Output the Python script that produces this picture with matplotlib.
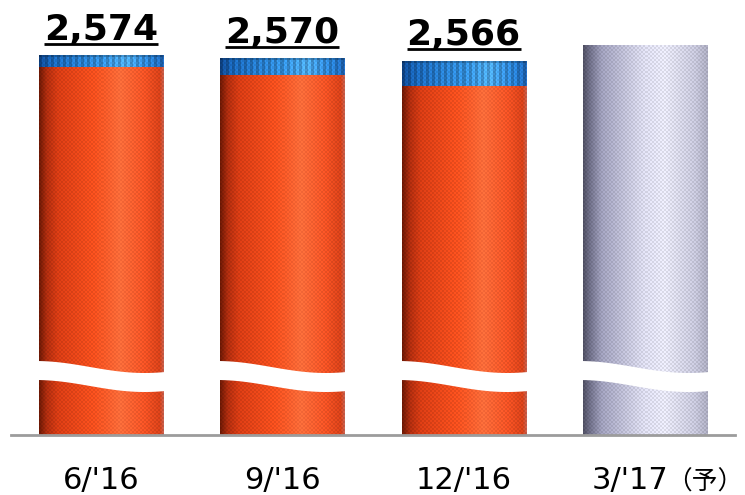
import numpy as np
import matplotlib
matplotlib.use("Agg")
import matplotlib.pyplot as plt
from matplotlib.patches import Polygon
from matplotlib.lines import Line2D
from matplotlib.transforms import IdentityTransform

# ---------------- data ----------------
periods = ["6/'16", "9/'16", "12/'16", "3/'17（予）"]
orange_vals = [2556, 2544, 2526, 0]       # lower (orange) segment
blue_vals = [18, 26, 40, 0]               # upper (blue) segment
forecast_vals = [0, 0, 0, 2592]           # forecast column (lavender)
value_labels = ["2,574", "2,570", "2,566", ""]

# ---------------- style ----------------
Y_MIN, Y_MAX = 1968, 2664
BAR_W = 0.684

orange_stops = ([0.0, 0.06, 0.15, 0.45, 0.65, 0.85, 0.97, 1.0],
                [(110, 25, 5), (175, 45, 15), (215, 60, 20), (245, 80, 30),
                 (255, 108, 58), (242, 82, 36), (215, 65, 25), (200, 95, 75)])
blue_stops = ([0.0, 0.1, 0.5, 0.7, 0.9, 1.0],
              [(15, 70, 140), (25, 100, 180), (50, 140, 215),
               (75, 165, 232), (40, 125, 205), (30, 100, 180)])
lav_stops = ([0.0, 0.05, 0.15, 0.5, 0.65, 0.9, 1.0],
             [(80, 80, 100), (110, 110, 135), (160, 160, 188),
              (220, 220, 238), (230, 230, 244), (198, 198, 218), (172, 172, 192)])


def grad_img(stops, wpx, hpx, stripes=False):
    st, sc = stops
    sc = np.array(sc, dtype=float)
    t = np.linspace(0, 1, wpx)
    cols = np.stack([np.interp(t, st, sc[:, k]) for k in range(3)], axis=-1) / 255.0
    img = np.repeat(cols[None, :, :], hpx, axis=0)
    yy, xx = np.mgrid[0:hpx, 0:wpx]
    checker = ((yy // 2 + xx // 2) % 2) * 2 - 1
    img = img * (1 + 0.05 * checker[..., None])
    if stripes:
        stripe = ((xx // 3) % 2) * 2 - 1
        img = img * (1 + 0.12 * stripe[..., None])
        img[:2] *= 0.8
    return np.clip(img, 0, 1)


fig = plt.figure(figsize=(7.45, 4.95), dpi=100)
ax = fig.add_axes([0, 60 / 495, 1, 435 / 495])
ax.set_xlim(-0.557, 3.552)
ax.set_ylim(Y_MIN, Y_MAX)
ax.axis("off")

px_per_unit = 435 / (Y_MAX - Y_MIN)
bar_px = int(round(BAR_W * 745 / (3.552 + 0.557)))

x = np.arange(len(periods))
for i in range(len(periods)):
    segs = []
    if orange_vals[i]:
        segs.append((Y_MIN, orange_vals[i], orange_stops, False))
    if blue_vals[i]:
        segs.append((orange_vals[i], orange_vals[i] + blue_vals[i], blue_stops, True))
    if forecast_vals[i]:
        segs.append((Y_MIN, forecast_vals[i], lav_stops, False))
    for b, t, stops, stp in segs:
        hpx = max(2, int(round((t - b) * px_per_unit)))
        img = grad_img(stops, bar_px, hpx, stripes=stp)
        ax.imshow(img, extent=(x[i] - BAR_W / 2, x[i] + BAR_W / 2, b, t),
                  aspect="auto", interpolation="nearest", zorder=2)

    # wavy axis break
    tt = np.linspace(0, 1, 60)
    f = (1 - np.cos(np.pi * tt * 1.2)) / 2
    xs = x[i] - BAR_W / 2 - 0.02 + tt * (BAR_W + 0.04)
    amp = 12 / px_per_unit
    upper = Y_MIN + 74 / px_per_unit - amp * f
    lower = Y_MIN + 55 / px_per_unit - amp * f
    pts = np.concatenate([np.column_stack([xs, upper]),
                          np.column_stack([xs[::-1], lower[::-1]])])
    ax.add_patch(Polygon(pts, closed=True, facecolor="white", edgecolor="none", zorder=3))

ax.set_xlim(-0.557, 3.552)
ax.set_ylim(Y_MIN, Y_MAX)

# baseline
ax.axhline(Y_MIN, xmin=11 / 745, xmax=735 / 745, color="#9c9c9c", lw=2.0,
           clip_on=False, zorder=4)

# value labels
texts = []
for i, lbl in enumerate(value_labels):
    if not lbl:
        continue
    top = orange_vals[i] + blue_vals[i]
    tx = ax.annotate(lbl, xy=(x[i], top), xytext=(0, 16 * 0.72),
                     textcoords="offset points", ha="center", va="baseline",
                     fontsize=26, fontweight="bold", color="black",
                     family="DejaVu Sans", zorder=5)
    texts.append((tx, x[i], top))

# category labels
fams = ["DejaVu Sans", "Noto Sans CJK JP"]
suffix_parts = []
for i, lbl in enumerate(periods):
    if "（" in lbl:
        main, rest = lbl.split("（", 1)
        rest = "（" + rest
        tm = ax.annotate(main, xy=(x[i], Y_MIN), xytext=(-53 * 0.72, -54 * 0.72),
                         textcoords="offset points", ha="left", va="baseline",
                         fontsize=22, color="black", family=fams,
                         annotation_clip=False)
        suffix_parts.append((tm, rest))
    else:
        ax.annotate(lbl, xy=(x[i], Y_MIN), xytext=(0, -54 * 0.72),
                    textcoords="offset points", ha="center", va="baseline",
                    fontsize=22, color="black", family=fams,
                    annotation_clip=False)

fig.canvas.draw()
renderer = fig.canvas.get_renderer()

# suffix "（予）" right after the main label
for tm, rest in suffix_parts:
    bb = tm.get_window_extent(renderer)
    yb = ax.transData.transform((0, Y_MIN))[1] - 54
    fig.text(bb.x1 - 3, yb - 1, rest, transform=IdentityTransform(),
             ha="left", va="baseline", fontsize=18.5, color="black",
             family=["Noto Sans CJK JP", "DejaVu Sans"])

# underline the value labels
for tx, xi, top in texts:
    bb = tx.get_window_extent(renderer)
    yd = ax.transData.transform((xi, top))[1]
    yl = yd + 12
    fig.add_artist(Line2D([bb.x0, bb.x1], [yl, yl], transform=IdentityTransform(),
                          color="black", lw=2.0, solid_capstyle="butt"))

fig.savefig("out.png", dpi=100)
